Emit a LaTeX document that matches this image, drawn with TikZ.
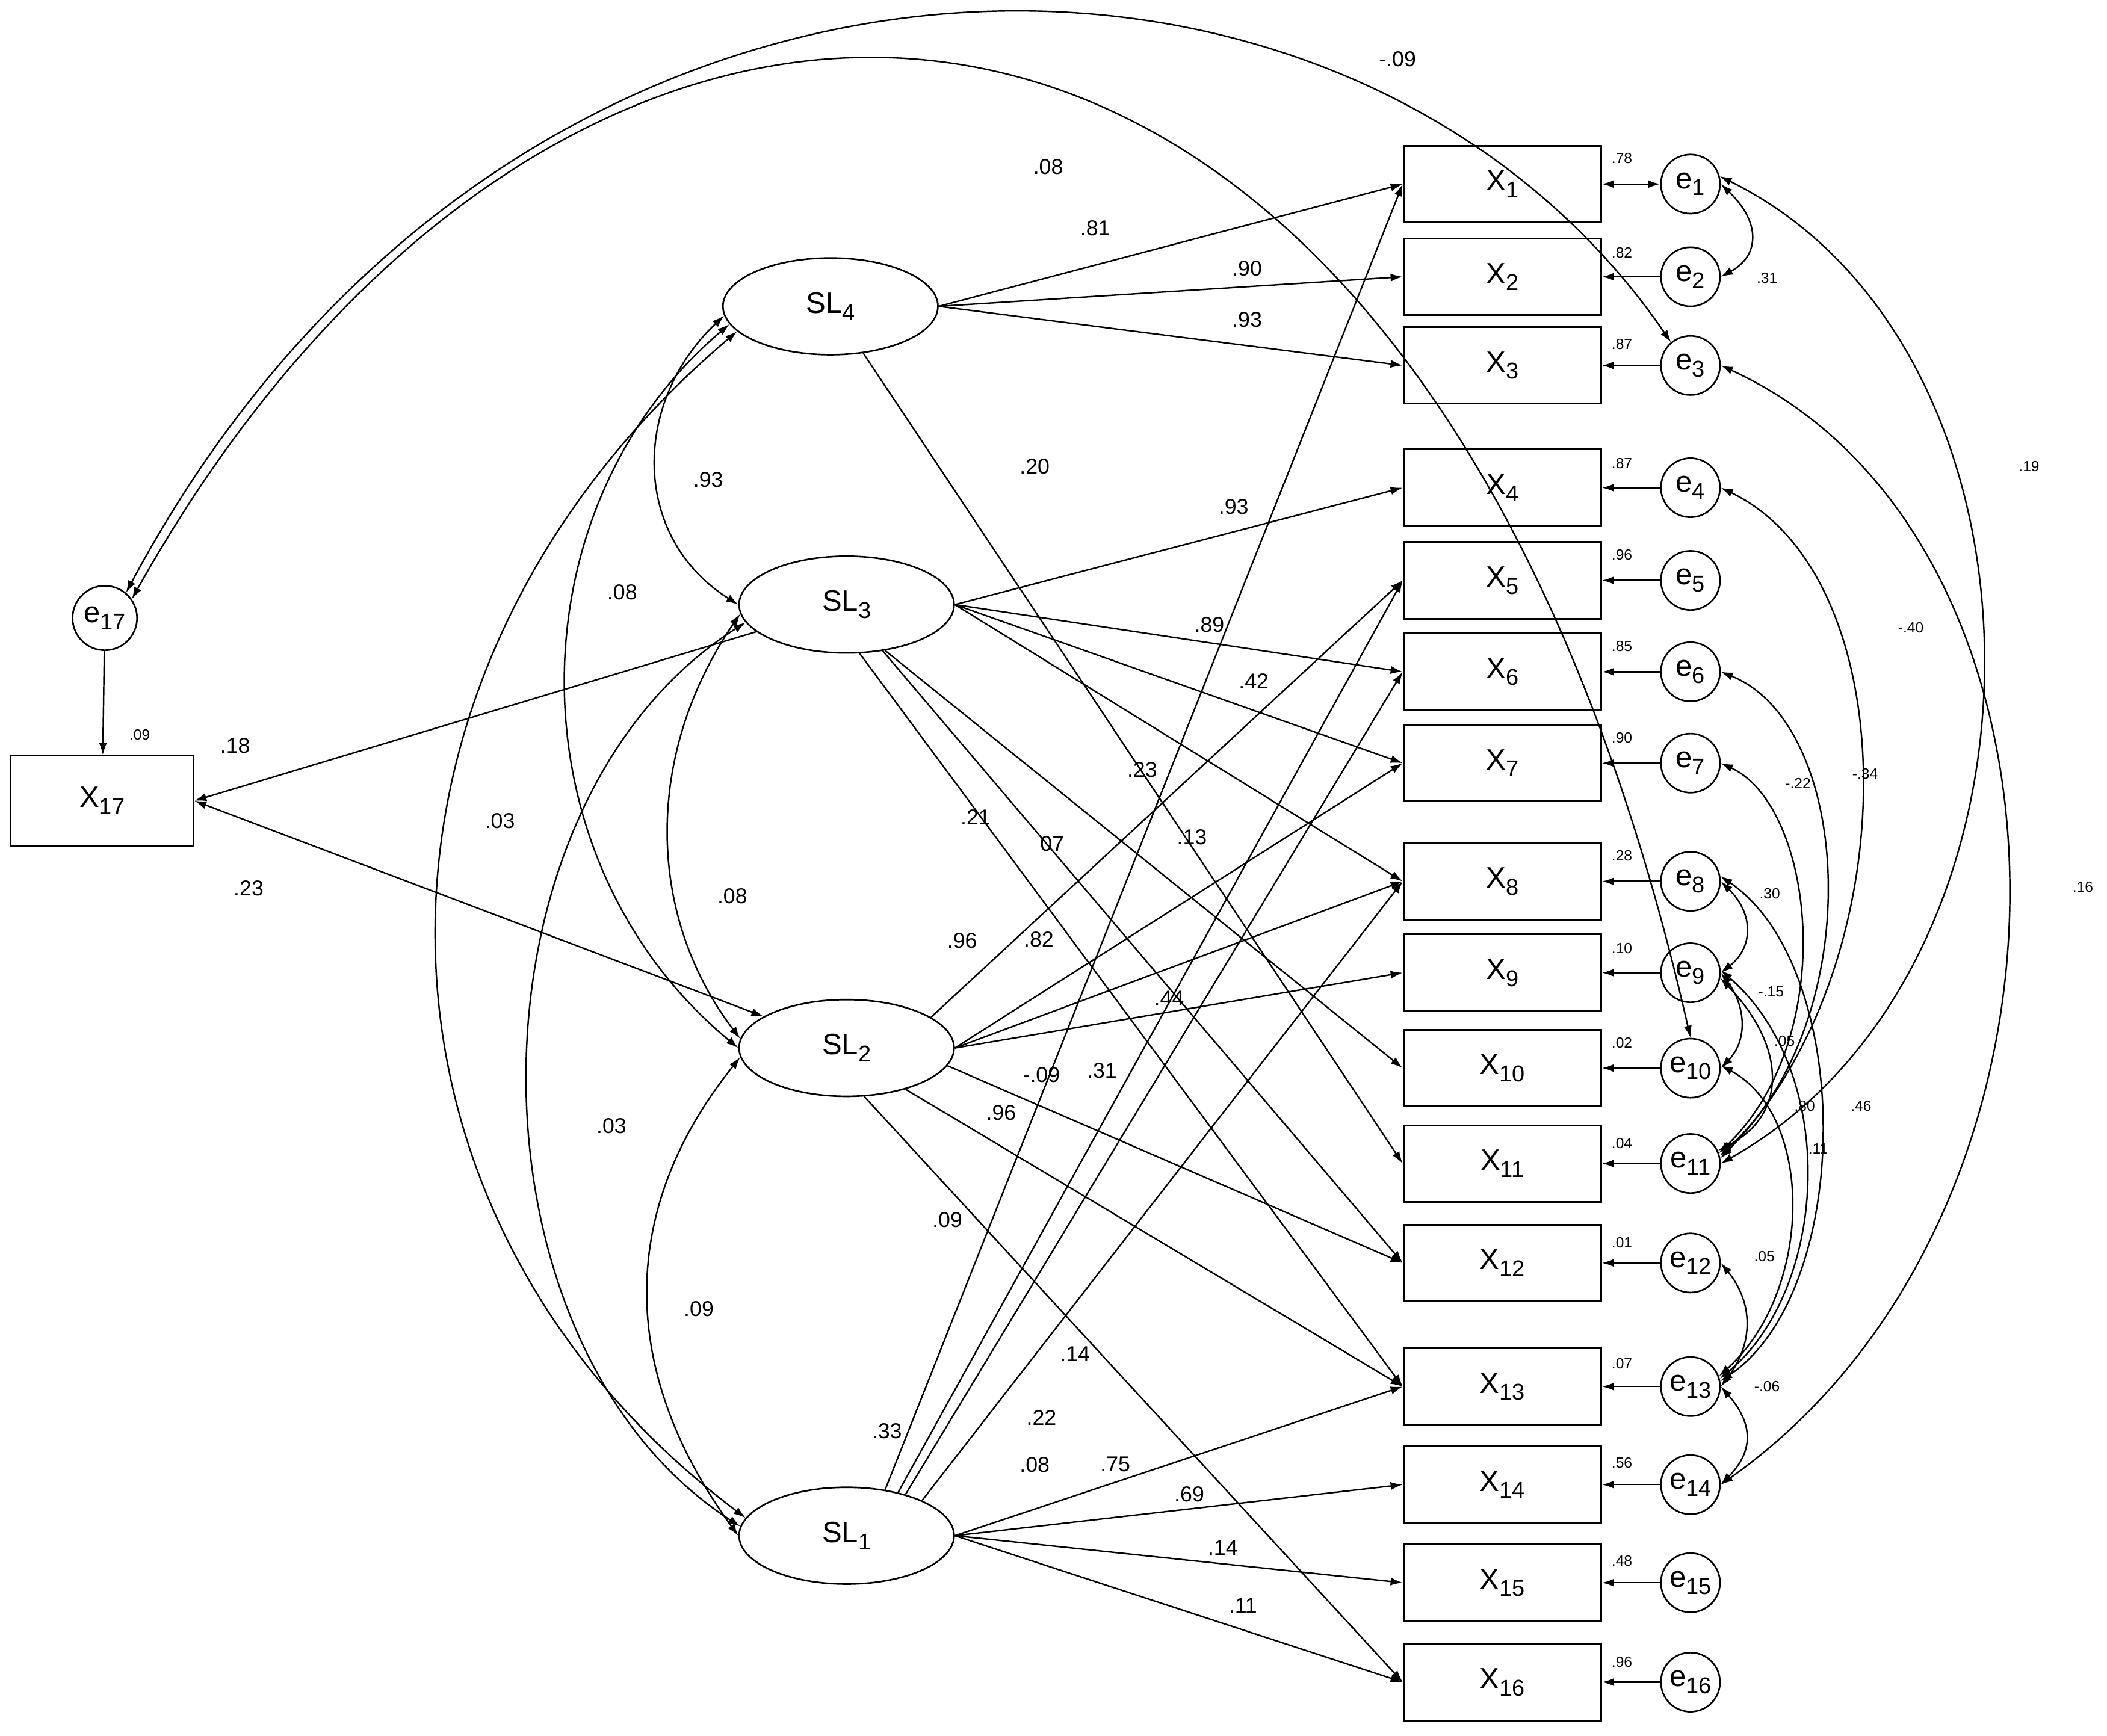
\documentclass[tikz,border=0pt]{standalone}
\usepackage{fontspec}
\setmainfont{Liberation Sans}
\usetikzlibrary{arrows.meta,shapes.geometric}
\newcommand{\sbs}[1]{\raisebox{-0.45ex}{\fontsize{17}{18}\selectfont #1}}
\begin{document}
\begin{tikzpicture}[x=1pt,y=-1pt,
 box/.style={draw,line width=1.3pt,minimum width=147pt,minimum height=57pt,inner sep=0pt,font=\fontsize{22}{24}\selectfont},
 err/.style={draw,line width=1.2pt,circle,minimum size=44pt,inner sep=0pt,font=\fontsize{22}{24}\selectfont},
 lat/.style={draw,line width=1.2pt,ellipse,minimum width=160pt,minimum height=72pt,inner sep=0pt,font=\fontsize{22}{24}\selectfont},
 ar/.style={line width=1.1pt,-{Latex[length=9pt,width=6pt]}},
 dar/.style={line width=1.1pt,{Latex[length=9pt,width=6pt]}-{Latex[length=9pt,width=6pt]}},
 lb/.style={font=\fontsize{16}{18}\selectfont,inner sep=0pt},
 sl/.style={font=\fontsize{11}{12}\selectfont,inner sep=0pt}]
\useasboundingbox (0,0) rectangle (1568,1292);
\fill[white] (0,0) rectangle (1568,1292);
% boxes
\foreach \i/\y in {1/137,2/206,3/272,4/363,5/432,6/500,7/568,8/656,9/724,10/795,11/866,12/940,13/1032,14/1105,15/1178,16/1252}{
 \node[box] (X\i) at (1118,\y) {X\sbs{\i}};
 \node[err] (e\i) at (1258,\y) {e\sbs{\i}};
}
\node[box,minimum width=136pt,minimum height=67pt] (X17) at (76,596) {X\sbs{17}};
\node[err,minimum size=48pt] (e17) at (78,460) {e\sbs{17}};
\node[lat] (SL4) at (618,228) {SL\sbs{4}};
\node[lat] (SL3) at (630,450) {SL\sbs{3}};
\node[lat] (SL2) at (630,780) {SL\sbs{2}};
\node[lat] (SL1) at (630,1143) {SL\sbs{1}};
% error -> indicator
\foreach \i in {2,...,16}{\draw[ar] (e\i) -- (X\i);}
\draw[dar] (X1) -- (e1);
\draw[ar] (e17) -- (X17);
% loadings
\foreach \t in {1,2,3}{\draw[ar] (SL4.east) -- (X\t.west);}
\draw[ar] (SL4.-55) -- (X11.west);
\foreach \t in {4,6,7,8}{\draw[ar] (SL3.east) -- (X\t.west);}
\draw[ar] (SL3.-50) -- (X10.west);
\draw[ar] (SL3.-52) -- (X12.west);
\draw[ar] (SL3.-75) -- (X13.west);
\draw[ar] (SL2.20) -- (X5.west);
\foreach \t in {7,8,9}{\draw[ar] (SL2.east) -- (X\t.west);}
\draw[ar] (SL2.-10) -- (X12.west);
\draw[ar] (SL2.-35) -- (X13.west);
\draw[ar] (SL2.-70) -- (X16.west);
\draw[ar] (SL1.50) -- (X1.west);
\draw[ar] (SL1.40) -- (X5.west);
\draw[ar] (SL1.35) -- (X6.west);
\draw[ar] (SL1.25) -- (X8.west);
\foreach \t in {13,14,15,16}{\draw[ar] (SL1.east) -- (X\t.west);}
\draw[ar] (SL3) -- (X17.east);
\draw[dar] (X17.east) -- (SL2);
% latent correlations
\draw[dar] (SL4.185) .. controls (470,300) and (470,400) .. (SL3.180);
\draw[dar] (SL4.190) .. controls (380,380) and (380,640) .. (SL2.180);
\draw[dar] (SL4.195) .. controls (250,500) and (250,900) .. (SL1.170);
\draw[dar] (SL3.185) .. controls (480,560) and (480,680) .. (SL2.175);
\draw[dar] (SL3.190) .. controls (340,600) and (340,1000) .. (SL1.175);
\draw[dar] (SL2.185) .. controls (460,900) and (460,1020) .. (SL1.180);
% e17 long curves
\draw[dar] (e17.50) .. controls (380,-95) and (1000,-100) .. (e3.130);
\draw[dar] (e17.35) .. controls (420,-130) and (1050,-140) .. (e10.north);
% error covariances
\draw[dar] (e1.east) .. controls (1310,165) and (1310,190) .. (e2.east);
\draw[dar] (e1.15) .. controls (1540,260) and (1540,720) .. (e11.east);
\draw[dar] (e3.east) .. controls (1560,400) and (1570,900) .. (e14.east);
\draw[dar] (e4.east) .. controls (1420,430) and (1420,720) .. (e11.10);
\draw[dar] (e6.east) .. controls (1380,540) and (1390,760) .. (e11.15);
\draw[dar] (e7.east) .. controls (1350,600) and (1370,770) .. (e11.20);
\draw[dar] (e8.east) .. controls (1305,680) and (1305,705) .. (e9.east);
\draw[dar] (e8.10) .. controls (1380,720) and (1380,960) .. (e13.10);
\draw[dar] (e9.east) .. controls (1300,750) and (1300,775) .. (e10.east);
\draw[dar] (e9.-10) .. controls (1330,780) and (1330,830) .. (e11.25);
\draw[dar] (e9.5) .. controls (1370,800) and (1360,960) .. (e13.15);
\draw[dar] (e10.5) .. controls (1350,830) and (1350,960) .. (e13.20);
\draw[dar] (e12.east) .. controls (1305,970) and (1305,1000) .. (e13.east);
\draw[dar] (e13.east) .. controls (1305,1060) and (1305,1080) .. (e14.east);
% labels
\foreach \x/\y/\t in {815/170/.81,928/200/.90,928/238/.93,770/347/.20,918/377/.93,527/357/.93,463/441/.08,900/465/.89,933/507/.42,850/573/.23,726/608/.21,783/628/07,887/623/.13,372/611/.03,545/667/.08,716/700/.96,773/699/.82,870/743/.44,775/800/-.09,820/797/.31,745/828/.96,455/838/.03,705/908/.09,520/974/.09,800/1008/.14,775/1055/.22,660/1065/.33,770/1090/.08,830/1090/.75,885/1112/.69,910/1152/.14,925/1195/.11,175/555/.18,185/661/.23,1040/44/-.09,780/124/.08}{\node[lb] at (\x,\y) {\t};}
\foreach \x/\y/\t in {104/547/.09,1207/118/.78,1207/188/.82,1207/256/.87,1207/345/.87,1207/413/.96,1207/481/.85,1207/549/.90,1207/637/.28,1207/706/.10,1207/776/.02,1207/851/.04,1207/925/.01,1207/1015/.07,1207/1089/.56,1207/1162/.48,1207/1237/.96,1315/207/.31,1510/347/.19,1422/467/-.40,1388/576/-.34,1338/583/-.22,1317/665/.30,1318/738/-.15,1328/775/.05,1343/823/.80,1385/823/.46,1353/855/.11,1313/935/.05,1315/1032/-.06,1550/660/.16}{\node[sl] at (\x,\y) {\t};}
\end{tikzpicture}
\end{document}
